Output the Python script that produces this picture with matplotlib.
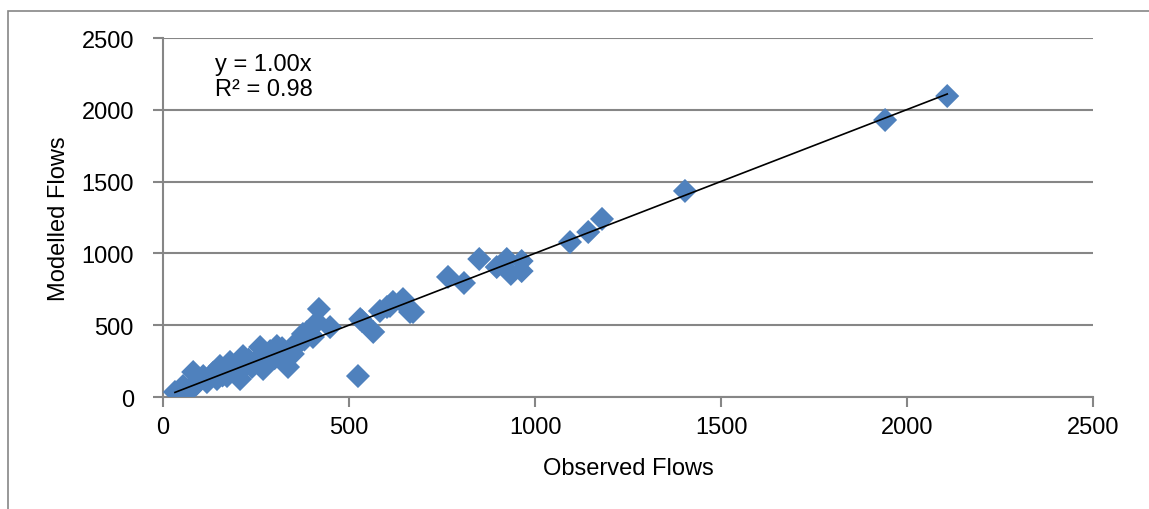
import numpy as np
import matplotlib.pyplot as plt
from matplotlib.patches import Rectangle

plt.rcParams['font.family'] = ['Liberation Sans', 'DejaVu Sans']

# Observed vs modelled flows
observed = np.array([
    32, 40, 46, 54, 60, 70, 81, 81, 90, 100, 108, 118, 125, 135, 145, 153,
    160, 165, 172, 180, 190, 200, 207, 215, 225, 230, 239, 250, 261, 269,
    280, 288, 300, 306, 315, 320, 336, 340, 349, 355, 368, 376, 380, 387,
    395, 403, 414, 419, 449,
    524, 530, 535, 565, 583, 602, 610, 618, 642, 645, 664, 672,
    766, 809, 850, 897, 924, 935, 964, 964,
    1094, 1143, 1180, 1403, 1941, 2108,
])
modelled = np.array([
    35, 20, 7, 77, 40, 55, 174, 70, 90, 120, 146, 104, 130, 170, 125, 216,
    150, 190, 146, 244, 200, 180, 125, 285, 230, 260, 209, 250, 348, 195,
    290, 320, 270, 355, 313, 340, 209, 320, 300, 370, 383, 439, 400, 453,
    440, 418, 522, 613, 487,
    146, 543, 529, 453, 599, 627, 634, 662, 662, 682, 592, 592,
    836, 794, 961, 905, 961, 857, 947, 877,
    1079, 1149, 1240, 1435, 1929, 2096,
])

eq_label = 'y = 1.00x'
r2_label = 'R² = 0.98'

# trend line through the origin
slope = np.sum(observed * modelled) / np.sum(observed ** 2)

fig = plt.figure(figsize=(11.49, 5.10), dpi=100)
ax = fig.add_axes([0.1419, 0.2196, 0.8094, 0.7039])

grey = '#868686'

# outer chart frame
fig.patches.append(Rectangle((8 / 1149, -0.05), 1.1, 1 - 12 / 510 + 0.05,
                             transform=fig.transFigure, fill=False,
                             edgecolor=grey, linewidth=1.2))

ax.scatter(observed, modelled, marker='D', s=150, color='#4F81BD',
           edgecolors='none', zorder=3)
xs = np.array([observed.min(), observed.max()])
ax.plot(xs, slope * xs, color='black', linewidth=1.2, zorder=4)

ax.set_xlim(0, 2500)
ax.set_ylim(0, 2500)
ax.set_xticks(np.arange(0, 2501, 500))
ax.set_yticks(np.arange(0, 2501, 500))
ax.yaxis.grid(True, color=grey, linewidth=1.5)
ax.set_axisbelow(True)

for side in ['top', 'right']:
    ax.spines[side].set_visible(False)
for side in ['left', 'bottom']:
    ax.spines[side].set_color(grey)
    ax.spines[side].set_linewidth(1.5)
ax.tick_params(direction='out', length=7, width=1.5, color=grey,
               labelsize=17)
ax.tick_params(axis='y', pad=14)
ax.tick_params(axis='x', pad=7)

ax.set_xlabel('Observed Flows', fontsize=17, labelpad=13)
ax.set_ylabel('Modelled Flows', fontsize=17, labelpad=8)

ax.text(140, 2395, eq_label + '\n' + r2_label, fontsize=17,
        va='top', ha='left', linespacing=1.15,
        bbox=dict(facecolor='white', edgecolor='none', pad=6))

fig.savefig('out.png', dpi=100)
